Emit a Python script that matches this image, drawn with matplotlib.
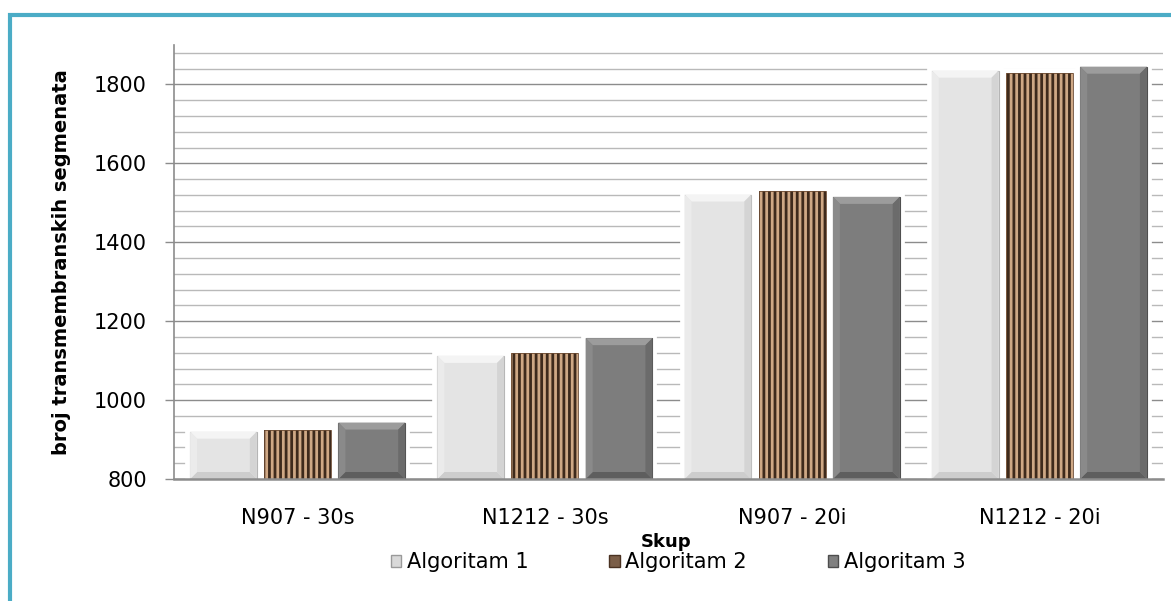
import numpy as np
import matplotlib.pyplot as plt
from matplotlib.patches import Polygon, Patch, Rectangle

# podaci
skupovi = ['N907 - 30s', 'N1212 - 30s', 'N907 - 20i', 'N1212 - 20i']
algoritam1 = [920, 1112, 1521, 1835]
algoritam2 = [923, 1119, 1529, 1829]
algoritam3 = [943, 1157, 1515, 1845]
serije = ['Algoritam 1', 'Algoritam 2', 'Algoritam 3']
y_ticks = [800, 1000, 1200, 1400, 1600, 1800]
y_min, y_max = 800, 1900

W, H = 1171, 601
plt.rcParams['font.family'] = ['DejaVu Sans']
plt.rcParams['hatch.linewidth'] = 2.0

fig = plt.figure(figsize=(W / 100, H / 100), dpi=100)
ax_l, ax_b, ax_w, ax_h = 174, 479, 989, 434
ax = fig.add_axes([ax_l / W, 1 - ax_b / H, ax_w / W, ax_h / H])
ax.set_xlim(-0.5, 3.5)
ax.set_ylim(y_min, y_max)

# mreza
ax.set_yticks(y_ticks)
ax.set_yticks([v for v in range(y_min + 40, y_max, 40) if v not in y_ticks], minor=True)
ax.yaxis.grid(True, which='major', color='#8c8c8c', lw=1.0)
ax.yaxis.grid(True, which='minor', color='#b9b9b9', lw=1.0)
ax.set_axisbelow(True)

# bevel velicina u jedinicama podataka
bx = 7 * 4.0 / ax_w
by = 7 * (y_max - y_min) / ax_h

stilovi = [
    dict(face='#e4e4e4', edge='#b5b5b5', top='#f4f4f4', bot='#cdcdcd', lft='#ebebeb', rgt='#d4d4d4'),
    dict(face='#cfa885', edge='#3e2a1c'),
    dict(face='#7d7d7d', edge='#4f4f4f', top='#9c9c9c', bot='#5e5e5e', lft='#8a8a8a', rgt='#6b6b6b'),
]

x = np.arange(len(skupovi))
sirina = 0.27
for i, vals in enumerate([algoritam1, algoritam2, algoritam3]):
    st = stilovi[i]
    xs = x + (i - 1) * 0.3
    vals = np.array(vals)
    # bijeli rub oko stupca (prekida mrezu)
    ax.bar(xs, vals - y_min, bottom=y_min, width=sirina, color='white',
           edgecolor='white', lw=7, zorder=2)
    if i == 1:
        ax.bar(xs, vals - y_min, bottom=y_min, width=sirina, color=st['face'],
               edgecolor=st['edge'], lw=0, hatch='|||', zorder=3)
        ax.bar(xs, vals - y_min, bottom=y_min, width=sirina, fill=False,
               edgecolor='#6b4a32', lw=0.6, zorder=4)
        continue
    ax.bar(xs, vals - y_min, bottom=y_min, width=sirina, color=st['face'],
           edgecolor=st['edge'], lw=0.8, zorder=3)
    for xc, v in zip(xs, vals):
        L, R, B, T = xc - sirina / 2, xc + sirina / 2, y_min, v
        dx, dy = bx, min(by, (T - B) / 2)
        ax.add_patch(Polygon([(L, T), (R, T), (R - dx, T - dy), (L + dx, T - dy)],
                             closed=True, fc=st['top'], ec='none', zorder=4))
        ax.add_patch(Polygon([(L, B), (R, B), (R - dx, B + dy), (L + dx, B + dy)],
                             closed=True, fc=st['bot'], ec='none', zorder=4))
        ax.add_patch(Polygon([(L, B), (L, T), (L + dx, T - dy), (L + dx, B + dy)],
                             closed=True, fc=st['lft'], ec='none', zorder=4))
        ax.add_patch(Polygon([(R, B), (R, T), (R - dx, T - dy), (R - dx, B + dy)],
                             closed=True, fc=st['rgt'], ec='none', zorder=4))

# osi
for s in ['top', 'right']:
    ax.spines[s].set_visible(False)
ax.spines['left'].set_color('#8c8c8c')
ax.spines['left'].set_linewidth(1.2)
ax.spines['bottom'].set_color('#8c8c8c')
ax.spines['bottom'].set_linewidth(1.8)
ax.spines['bottom'].set_zorder(5)

ax.set_xticks(x)
ax.set_xticklabels(skupovi)
ax.tick_params(axis='x', length=0, pad=21, labelsize=15)
ax.tick_params(axis='y', which='major', length=6.5, width=1, color='#8c8c8c',
               labelsize=15, pad=13)
ax.tick_params(axis='y', which='minor', length=0)

fig.text(62 / W, 1 - 262 / H, 'broj transmembranskih segmenata', rotation=90,
         ha='center', va='center', fontsize=14, fontweight='bold')
fig.text(666 / W, 1 - 547 / H, 'Skup', ha='center', va='baseline',
         fontsize=13, fontweight='bold')

# legenda
rucke = [Patch(facecolor='#d9d9d9', edgecolor='#9a9a9a'),
         Patch(facecolor='#7b5e48', edgecolor='#4a3222'),
         Patch(facecolor='#808080', edgecolor='#4d4d4d')]
fig.legend(rucke, serije, ncol=3, loc='center', bbox_to_anchor=(678 / W, 1 - 562 / H),
           frameon=False, fontsize=15, handlelength=0.5, handleheight=0.5,
           handletextpad=0.25, columnspacing=3.9, borderpad=0)

# okvir
fig.add_artist(Rectangle((9.5 / W, -0.2), 1.5, 1.2 - 14.5 / H, transform=fig.transFigure,
                         fill=False, edgecolor='#4bacc6', lw=3, clip_on=False))

fig.savefig('out.png', dpi=100)
